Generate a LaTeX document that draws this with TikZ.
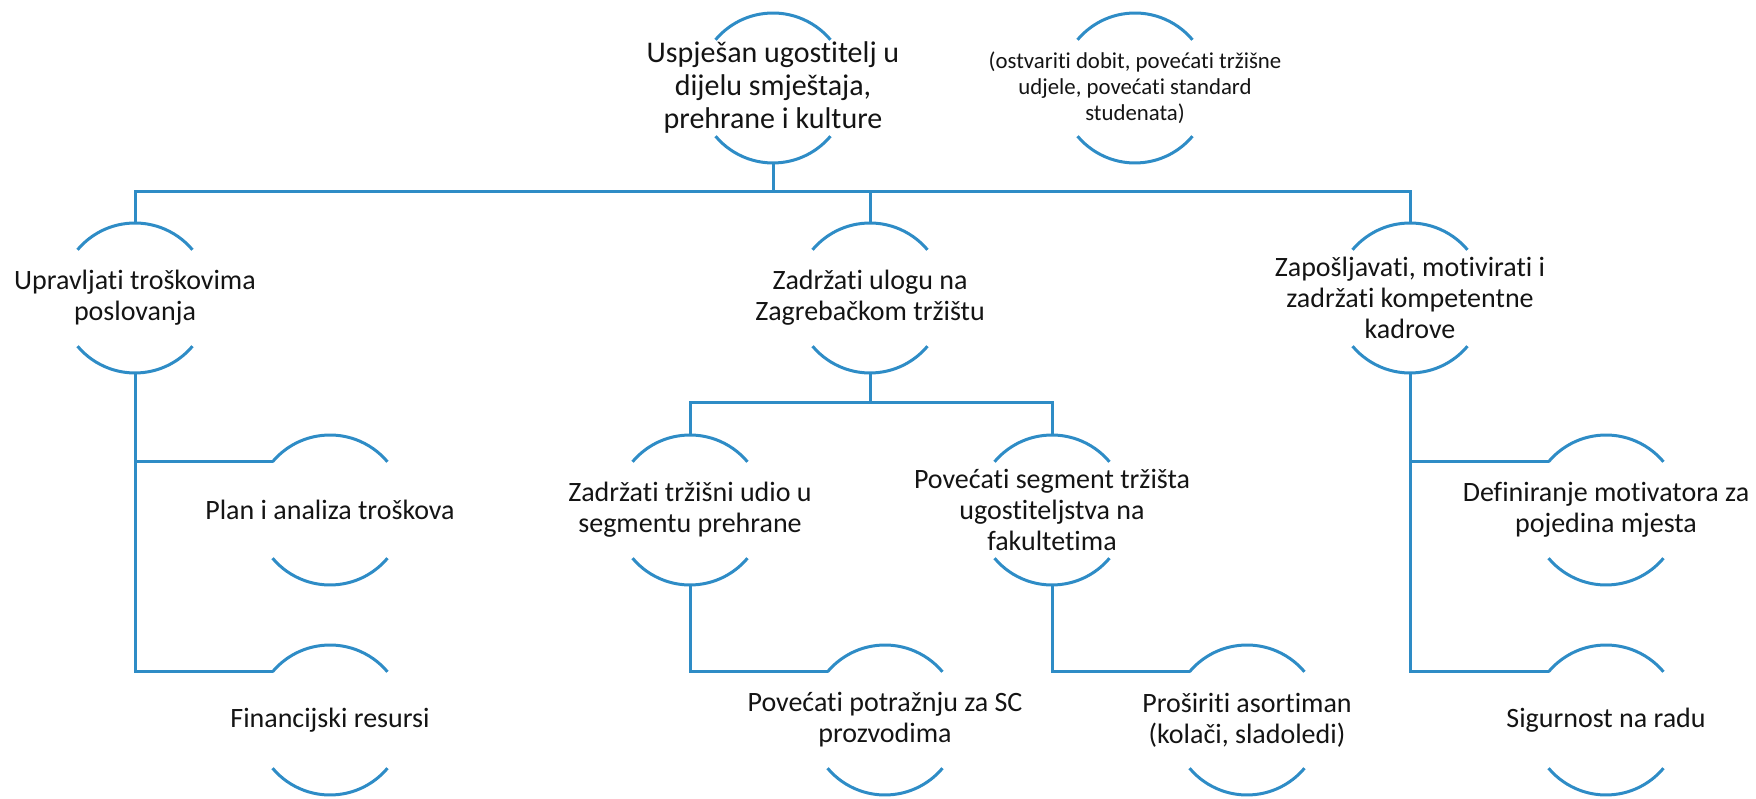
\documentclass[tikz,border=0pt]{standalone}
\usepackage{fontspec}
\setmainfont{Carlito}[Ligatures=NoCommon]
\definecolor{lineblue}{RGB}{46,140,198}
\definecolor{txtcol}{RGB}{20,20,20}
\tikzset{
  ring/.style={circle,minimum size=75pt,inner sep=0pt,outer sep=0pt},
  link/.style={draw=lineblue,line width=1.5pt},
  txt/.style={align=center,inner sep=0pt,text=txtcol,font=\fontsize{14}{15.5}\selectfont},
  toptxt/.style={txt,font=\fontsize{15}{16.5}\selectfont},
  smalltxt/.style={txt,font=\fontsize{11.4}{13}\selectfont},
}
\newcommand\ringnode[5]{%
  \node[ring] (#1) at (#2,#3) {};
  \node[#5] (#1t) at (#1.center) {#4};
  \draw[link] (#1.40) arc[start angle=40,end angle=140,radius=37.5pt];
  \draw[link] (#1.220) arc[start angle=220,end angle=320,radius=37.5pt];
}
\begin{document}
\begin{tikzpicture}[x=0.5pt,y=0.5pt]
\useasboundingbox (0,0) rectangle (1756,798);
\ringnode{top}{773}{710}{Uspješan ugostitelj u\\dijelu smještaja,\\prehrane i kulture}{toptxt}
\ringnode{obj}{1135}{710}{(ostvariti dobit, povećati tržišne\\udjele, povećati standard\\studenata)}{smalltxt}
\ringnode{L}{135}{500}{Upravljati troškovima\\poslovanja}{txt}
\ringnode{M}{870}{500}{Zadržati ulogu na\\Zagrebačkom tržištu}{txt}
\ringnode{R}{1410}{500}{Zapošljavati, motivirati i\\zadržati kompetentne\\kadrove}{txt}
\ringnode{L1}{330}{288}{Plan i analiza troškova}{txt}
\ringnode{L2}{330}{78}{Financijski resursi}{txt}
\ringnode{M1}{690}{288}{Zadržati tržišni udio u\\segmentu prehrane}{txt}
\ringnode{M2}{1052}{288}{Povećati segment tržišta\\ugostiteljstva na\\fakultetima}{txt}
\ringnode{M1a}{885}{78}{Povećati potražnju za SC\\prozvodima}{txt}
\ringnode{M2a}{1247}{78}{Proširiti asortiman\\(kolači, sladoledi)}{txt}
\ringnode{R1}{1606}{288}{Definiranje motivatora za\\pojedina mjesta}{txt}
\ringnode{R2}{1606}{78}{Sigurnost na radu}{txt}
% top level connectors
\draw[link] (top.south) -- ++(0,-29) coordinate (b1);
\draw[link] (L.north) |- (b1) -| (R.north);
\draw[link] (b1) -| (M.north);
% middle subtree
\draw[link] (M.south) -- ++(0,-30) coordinate (b2);
\draw[link] (M1.north) |- (b2) -| (M2.north);
\draw[link] (M1.south) |- (M1a.140);
\draw[link] (M2.south) |- (M2a.140);
% side subtrees
\draw[link] (L.south) |- (L1.140);
\draw[link] (L.south) |- (L2.140);
\draw[link] (R.south) |- (R1.140);
\draw[link] (R.south) |- (R2.140);
\end{tikzpicture}
\end{document}
